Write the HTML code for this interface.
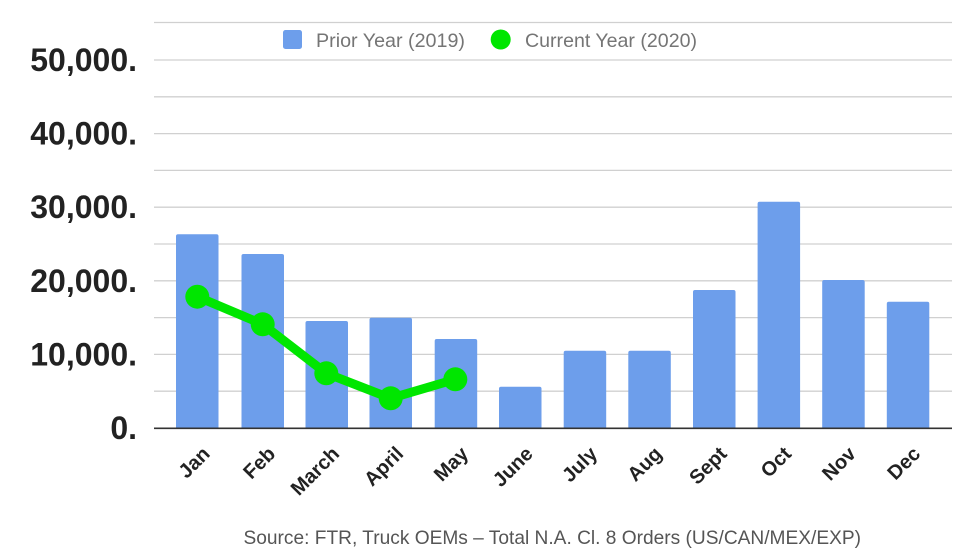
<!DOCTYPE html>
<html>
<head>
<meta charset="utf-8">
<style>
  html,body{margin:0;padding:0;background:#fff;}
  svg{display:block;}
  text{font-family:"Liberation Sans", Arial, sans-serif;}
</style>
</head>
<body>
<svg width="980" height="552" viewBox="0 0 980 552" xmlns="http://www.w3.org/2000/svg">
  <rect width="980" height="552" fill="#fff"/>
  <!-- gridlines -->
  <g stroke="#d0d0d0" stroke-width="1.3">
    <line x1="154" x2="952" y1="22.5" y2="22.5"/>
    <line x1="154" x2="952" y1="60" y2="60"/>
    <line x1="154" x2="952" y1="96.8" y2="96.8"/>
    <line x1="154" x2="952" y1="133.6" y2="133.6"/>
    <line x1="154" x2="952" y1="170.4" y2="170.4"/>
    <line x1="154" x2="952" y1="207.2" y2="207.2"/>
    <line x1="154" x2="952" y1="244" y2="244"/>
    <line x1="154" x2="952" y1="280.8" y2="280.8"/>
    <line x1="154" x2="952" y1="317.6" y2="317.6"/>
    <line x1="154" x2="952" y1="354.4" y2="354.4"/>
    <line x1="154" x2="952" y1="391.2" y2="391.2"/>
  </g>
  <!-- y labels -->
  <g font-size="32" font-weight="bold" fill="#222" text-anchor="end">
    <text x="137" y="70.8">50,000.</text>
    <text x="137" y="144.5">40,000.</text>
    <text x="137" y="218.2">30,000.</text>
    <text x="137" y="291.8">20,000.</text>
    <text x="137" y="365.4">10,000.</text>
    <text x="137" y="439">0.</text>
  </g>
  <!-- bars -->
  <g fill="#6d9eeb">
    <path d="M176,428 V236.3 Q176,234.3 178,234.3 H216.5 Q218.5,234.3 218.5,236.3 V428 Z"/>
    <path d="M241.5,428 V256 Q241.5,254 243.5,254 H282 Q284,254 284,256 V428 Z"/>
    <path d="M305.5,428 V323 Q305.5,321 307.5,321 H346 Q348,321 348,323 V428 Z"/>
    <path d="M369.5,428 V319.7 Q369.5,317.7 371.5,317.7 H410 Q412,317.7 412,319.7 V428 Z"/>
    <path d="M434.7,428 V341 Q434.7,339 436.7,339 H475.2 Q477.2,339 477.2,341 V428 Z"/>
    <path d="M499,428 V388.7 Q499,386.7 501,386.7 H539.5 Q541.5,386.7 541.5,388.7 V428 Z"/>
    <path d="M563.7,428 V352.7 Q563.7,350.7 565.7,350.7 H604.2 Q606.2,350.7 606.2,352.7 V428 Z"/>
    <path d="M628.3,428 V352.7 Q628.3,350.7 630.3,350.7 H668.8 Q670.8,350.7 670.8,352.7 V428 Z"/>
    <path d="M693,428 V292 Q693,290 695,290 H733.5 Q735.5,290 735.5,292 V428 Z"/>
    <path d="M757.6,428 V203.7 Q757.6,201.7 759.6,201.7 H798.1 Q800.1,201.7 800.1,203.7 V428 Z"/>
    <path d="M822.2,428 V282 Q822.2,280 824.2,280 H862.7 Q864.7,280 864.7,282 V428 Z"/>
    <path d="M886.8,428 V303.7 Q886.8,301.7 888.8,301.7 H927.3 Q929.3,301.7 929.3,303.7 V428 Z"/>
  </g>
  <!-- baseline axis -->
  <line x1="154" x2="952" y1="428.3" y2="428.3" stroke="#333" stroke-width="1.6"/>
  <!-- current year line -->
  <polyline points="197.3,296.7 262.7,324.3 326.3,373.3 390.7,398.3 455.3,379.3" fill="none" stroke="#00e600" stroke-width="9" stroke-linejoin="round" stroke-linecap="round"/>
  <g fill="#00e600">
    <circle cx="197.3" cy="296.7" r="12"/>
    <circle cx="262.7" cy="324.3" r="12"/>
    <circle cx="326.3" cy="373.3" r="12"/>
    <circle cx="390.7" cy="398.3" r="12"/>
    <circle cx="455.3" cy="379.3" r="12"/>
  </g>
  <!-- legend -->
  <rect x="283" y="30" width="19" height="19" rx="2.5" fill="#6d9eeb"/>
  <text x="316" y="47" font-size="19.5" fill="#757575" textLength="149" lengthAdjust="spacingAndGlyphs">Prior Year (2019)</text>
  <circle cx="500.7" cy="39.5" r="10" fill="#00e600"/>
  <text x="525" y="47" font-size="19.5" fill="#757575" textLength="172" lengthAdjust="spacingAndGlyphs">Current Year (2020)</text>
  <!-- x labels -->
  <g font-size="20" font-weight="bold" fill="#222" text-anchor="end">
    <text transform="translate(211,455) rotate(-45)">Jan</text>
    <text transform="translate(276.5,455) rotate(-45)">Feb</text>
    <text transform="translate(340.5,455) rotate(-45)">March</text>
    <text transform="translate(404.5,455) rotate(-45)">April</text>
    <text transform="translate(469.5,455) rotate(-45)">May</text>
    <text transform="translate(534,455) rotate(-45)">June</text>
    <text transform="translate(598.5,455) rotate(-45)">July</text>
    <text transform="translate(663,455) rotate(-45)">Aug</text>
    <text transform="translate(728,455) rotate(-45)">Sept</text>
    <text transform="translate(792.5,455) rotate(-45)">Oct</text>
    <text transform="translate(857,455) rotate(-45)">Nov</text>
    <text transform="translate(921.5,455) rotate(-45)">Dec</text>
  </g>
  <!-- source -->
  <text x="243.5" y="544" font-size="19.5" fill="#555" textLength="617.5" lengthAdjust="spacingAndGlyphs">Source: FTR, Truck OEMs – Total N.A. Cl. 8 Orders (US/CAN/MEX/EXP)</text>
</svg>
</body>
</html>
